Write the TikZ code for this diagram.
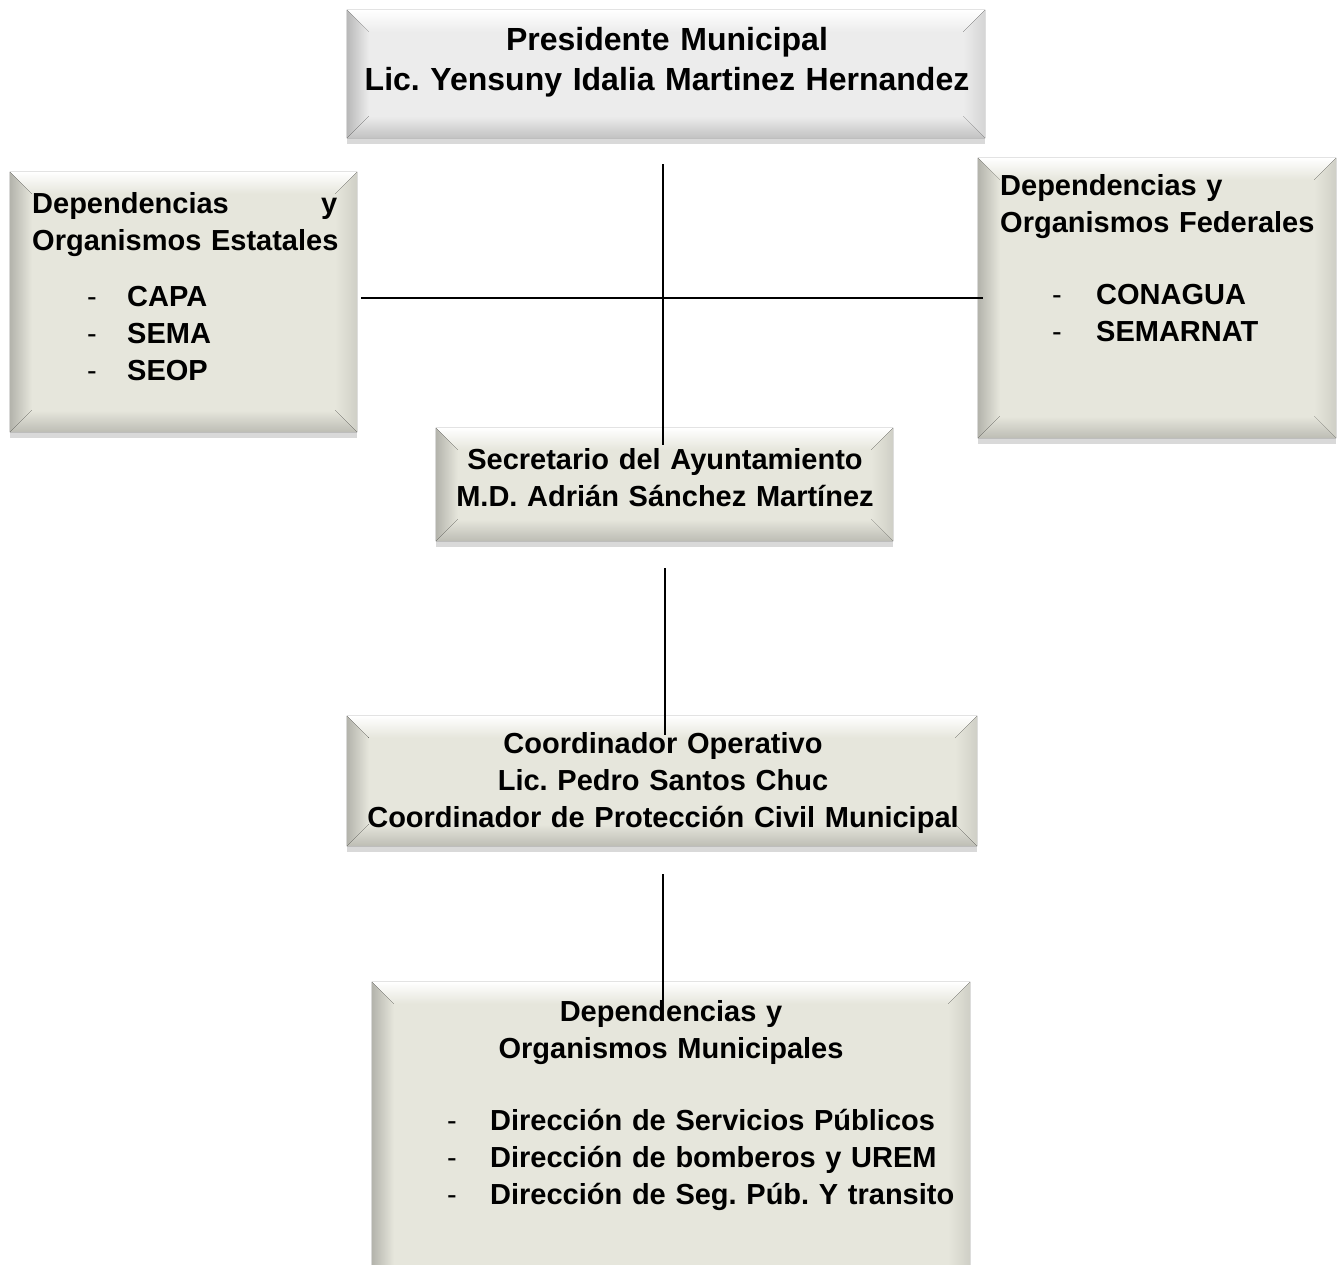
\documentclass[tikz,border=0pt]{standalone}
\usepackage{fontspec}
\setmainfont{Liberation Sans}
\usetikzlibrary{calc,shadows}
\frenchspacing
\hyphenpenalty=10000
\definecolor{facegray}{RGB}{236,236,236}
\definecolor{facebeige}{RGB}{230,230,220}
\tikzset{
    panel/.style={draw=none, inner sep=0pt,
        drop shadow={shadow xshift=0pt, shadow yshift=-6pt, opacity=.3}},
    headtext/.style={font=\bfseries\fontsize{32}{40}\selectfont, inner sep=0pt, text width=640pt, align=center},
    boxtext/.style={font=\bfseries\fontsize{29}{37}\selectfont, inner sep=0pt, align=center},
    listtext/.style={font=\bfseries\fontsize{29}{37}\selectfont, inner sep=0pt, align=left},
    link/.style={line width=1.6pt, black}
}
\newcommand{\dashitem}[2]{\hspace*{#1}\makebox[#2][l]{\mdseries -}}
\begin{document}
\begin{tikzpicture}[x=1pt, y=-1pt]
    \useasboundingbox (0,0) rectangle (1338,1264);
    % boxes
    \node[panel, fill=facegray, minimum width=638pt, minimum height=128pt] (pres) at (666,74) {};
    \node[panel, fill=facebeige, minimum width=347pt, minimum height=260pt] (est) at (183.5,302) {};
    \node[panel, fill=facebeige, minimum width=358pt, minimum height=280pt] (fed) at (1157,298) {};
    \node[panel, fill=facebeige, minimum width=457pt, minimum height=113pt] (sec) at (664.5,484.5) {};
    \node[panel, fill=facebeige, minimum width=630pt, minimum height=130pt] (coord) at (662,781) {};
    \node[panel, fill=facebeige, minimum width=598pt, minimum height=318pt] (mun) at (671,1141) {};
    % bevel edges
    \foreach \n/\c in {pres/facegray, est/facebeige, fed/facebeige, sec/facebeige, coord/facebeige, mun/facebeige} {
        \fill[top color=white, bottom color=\c] (\n.north west) -- (\n.north east)
            -- ($(\n.north east)+(-22,22)$) -- ($(\n.north west)+(22,22)$) -- cycle;
        \fill[left color=\c!78!black, right color=\c] (\n.north west) -- ($(\n.north west)+(22,22)$)
            -- ($(\n.south west)+(22,-22)$) -- (\n.south west) -- cycle;
        \fill[left color=\c, right color=\c!90!black] (\n.north east) -- ($(\n.north east)+(-22,22)$)
            -- ($(\n.south east)+(-22,-22)$) -- (\n.south east) -- cycle;
        \fill[top color=\c, bottom color=\c!82!black] (\n.south west) -- ($(\n.south west)+(22,-22)$)
            -- ($(\n.south east)+(-22,-22)$) -- (\n.south east) -- cycle;
    }
    % texts
    \node[headtext, anchor=base] (prestxt) at (667,50) {Presidente Municipal\\Lic. Yensuny Idalia Martinez Hernandez};
    \node[listtext, text width=330pt, anchor=base west] (esttxt) at (32,213)
        {\makebox[305pt][l]{Dependencias\hfill y}\\Organismos Estatales\\[19pt]
         \dashitem{55pt}{40pt}CAPA\\ \dashitem{55pt}{40pt}SEMA\\ \dashitem{55pt}{40pt}SEOP};
    \node[listtext, text width=335pt, anchor=base west] (fedtxt) at (1000,195)
        {Dependencias y\\Organismos Federales\\[35pt]
         \dashitem{52pt}{44pt}CONAGUA\\ \dashitem{52pt}{44pt}SEMARNAT};
    \node[boxtext, text width=440pt, anchor=base] (sectxt) at (665,469)
        {Secretario del Ayuntamiento\\M.D. Adrián Sánchez Martínez};
    \node[boxtext, text width=620pt, anchor=base] (coordtxt) at (663,753)
        {Coordinador Operativo\\Lic. Pedro Santos Chuc\\Coordinador de Protección Civil Municipal};
    \node[boxtext, text width=500pt, anchor=base] (munhead) at (671,1021)
        {Dependencias y\\Organismos Municipales};
    \node[listtext, text width=520pt, anchor=base west] (munlist) at (447,1130)
        {\dashitem{0pt}{43pt}Dirección de Servicios Públicos\\
         \dashitem{0pt}{43pt}Dirección de bomberos y UREM\\
         \dashitem{0pt}{43pt}Dirección de Seg. Púb. Y transito};
    % connectors
    \coordinate (v1top) at (663,164);
    \coordinate (v1bot) at (663,445);
    \coordinate (hleft) at (361,298);
    \coordinate (hright) at (983,298);
    \coordinate (v2top) at (665,568);
    \coordinate (v2bot) at (665,735);
    \coordinate (v3top) at (663,874);
    \coordinate (v3bot) at (663,1000);
    \draw[link] (v1top) -- (v1bot);
    \draw[link] (hleft) -- (hright);
    \draw[link] (v2top) -- (v2bot);
    \draw[link] (v3top) -- (v3bot);
\end{tikzpicture}
\end{document}
